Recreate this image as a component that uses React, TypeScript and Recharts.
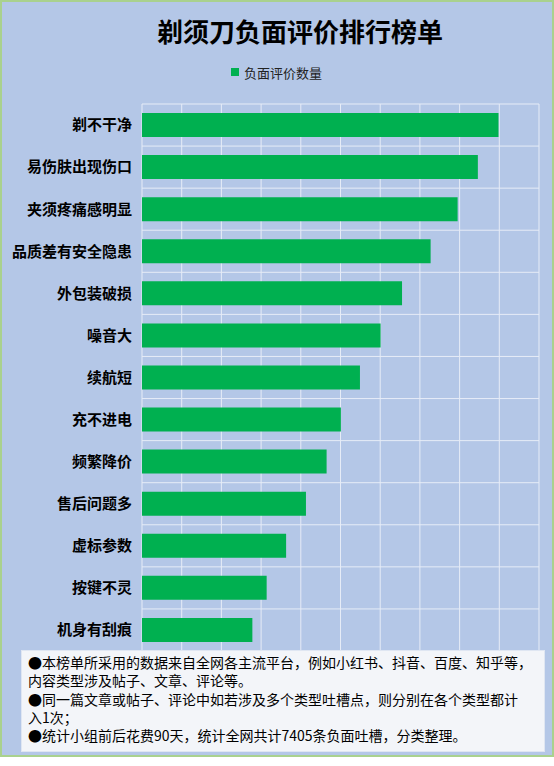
import React from 'react';
import { BarChart, Bar, XAxis, YAxis, CartesianGrid } from 'recharts';

const categories = [
  '剃不干净',
  '易伤肤出现伤口',
  '夹须疼痛感明显',
  '品质差有安全隐患',
  '外包装破损',
  '噪音大',
  '续航短',
  '充不进电',
  '频繁降价',
  '售后问题多',
  '虚标参数',
  '按键不灵',
  '机身有刮痕',
];

const negativeCounts = [898, 846, 795, 727, 655, 601, 549, 501, 465, 413, 363, 314, 278];

const xTicks = [0, 100, 200, 300, 400, 500, 600, 700, 800, 900, 1000];
const xMax = xTicks[xTicks.length - 1];

const seriesName = '负面评价数量';
const title = '剃须刀负面评价排行榜单';

const notes = [
  '●本榜单所采用的数据来自全网各主流平台，例如小红书、抖音、百度、知乎等，',
  '内容类型涉及帖子、文章、评论等。',
  '●同一篇文章或帖子、评论中如若涉及多个类型吐槽点，则分别在各个类型都计',
  '入1次；',
  '●统计小组前后花费90天，统计全网共计7405条负面吐槽，分类整理。',
];

const data = categories.map((name, i) => ({ name, value: negativeCounts[i] }));

const FONT = '"Noto Sans CJK SC", "Microsoft YaHei", sans-serif';
const GREEN = '#00b050';

// grid: row boundaries and one line per x tick
const rowLines = ({ offset }: any) =>
  categories
    .map((_, i) => offset.top + (offset.height * i) / categories.length)
    .concat(offset.top + offset.height);
const colLines = ({ offset }: any) => xTicks.map((t) => offset.left + (offset.width * t) / xMax);

export default function App() {
  return (
    <div
      style={{
        position: 'absolute',
        left: 0,
        top: 0,
        width: 554,
        height: 757,
        background: '#b4c7e7',
        boxShadow: 'inset 0 0 0 2px #a9d18e',
        fontFamily: FONT,
        overflow: 'hidden',
      }}
    >
      <div
        style={{
          position: 'absolute',
          left: 150,
          width: 300,
          top: 14,
          height: 34,
          lineHeight: '34px',
          textAlign: 'center',
          fontSize: 26,
          fontWeight: 700,
          color: '#000',
          whiteSpace: 'nowrap',
        }}
      >
        {title}
      </div>

      <div
        style={{
          position: 'absolute',
          left: 231,
          top: 63,
          height: 18,
          display: 'flex',
          alignItems: 'center',
          fontSize: 13,
          color: '#222',
          whiteSpace: 'nowrap',
        }}
      >
        <span style={{ width: 8, height: 8, background: GREEN, marginRight: 5 }} />
        {seriesName}
      </div>

      <div style={{ position: 'absolute', left: 0, top: 0 }}>
        <BarChart
          width={554}
          height={651}
          data={data}
          layout="vertical"
          margin={{ top: 104, right: 15, bottom: 0, left: 0 }}
          barCategoryGap={0}
        >
          <CartesianGrid
            stroke="#e6ecf7"
            strokeWidth={1}
            horizontalCoordinatesGenerator={rowLines}
            verticalCoordinatesGenerator={colLines}
          />
          <XAxis
            type="number"
            domain={[0, xMax]}
            ticks={xTicks}
            tick={false}
            tickLine={false}
            axisLine={false}
            height={0}
          />
          <YAxis
            type="category"
            dataKey="name"
            width={142}
            tickLine={false}
            axisLine={false}
            tickSize={8}
            tickMargin={2}
            interval={0}
            tick={{ fill: '#000', fontSize: 15, fontWeight: 700 }}
          />
          <Bar
            dataKey="value"
            name={seriesName}
            fill={GREEN}
            barSize={24}
            isAnimationActive={false}
          />
        </BarChart>
      </div>

      <div
        style={{
          position: 'absolute',
          left: 21,
          top: 650,
          width: 524,
          height: 102,
          boxSizing: 'border-box',
          background: '#f3f5f9',
          border: '1px solid #dfe6f2',
          padding: '2px 0 0 6px',
          fontSize: 14,
          lineHeight: '18.3px',
          color: '#000',
        }}
      >
        {notes.map((line, i) => (
          <div key={i} style={{ whiteSpace: 'nowrap' }}>
            {line}
          </div>
        ))}
      </div>
    </div>
  );
}
